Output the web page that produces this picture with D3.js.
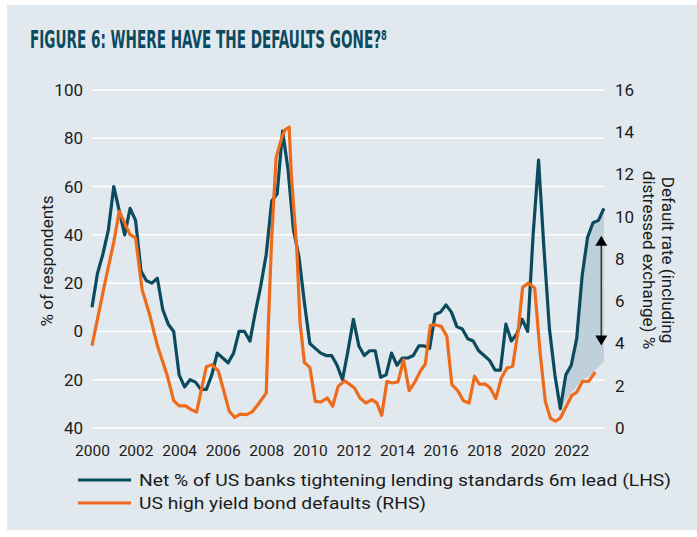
<!DOCTYPE html>
<html>
<head>
<meta charset="utf-8">
<script src="https://cdn.jsdelivr.net/npm/d3@7"></script>
<style>
  body { margin: 0; background: #fff; }
  text { font-family: Roboto, "Liberation Sans", sans-serif; fill: #1b1b1b; }
</style>
</head>
<body>
<div id="chart"></div>
<script>
// quarterly bank lending survey (6m lead), LHS
var bankDates = d3.range(2000, 2023.51, 0.25);
var bankValues = [10, 24, 32, 42, 60, 50, 40, 51, 46, 25, 21, 20, 22, 9, 3, 0,
  -18, -23, -20, -21, -24, -24, -18, -9, -11, -13, -9, 0, 0, -4, 8, 19,
  32, 54, 57, 83, 67, 42, 31, 12, -5, -7, -9, -10, -10, -14, -20, -8,
  5, -6, -10, -8, -8, -19, -18, -9, -14, -11, -11, -10, -6, -6, -7, 7,
  8, 11, 8, 2, 1, -3, -4, -8, -10, -12, -16, -16, 3, -4, -1, 5,
  0, 40, 71, 34, 1, -18, -32, -18, -14, -3, 23, 39, 45, 46, 51];

// US high yield defaults, RHS
var defDates = [2000.0, 2000.3, 2000.6, 2001.0, 2001.25, 2001.5, 2001.75, 2002.0, 2002.3, 2002.65,
  2003.0, 2003.45, 2003.75, 2004.0, 2004.3, 2004.55, 2004.8, 2005.25, 2005.5, 2005.8,
  2006.05, 2006.3, 2006.55, 2006.8, 2007.1, 2007.35, 2007.65, 2008.0, 2008.1, 2008.25,
  2008.45, 2008.7, 2008.85, 2009.05, 2009.15, 2009.4, 2009.55, 2009.75, 2010.0, 2010.25,
  2010.5, 2010.8, 2011.05, 2011.3, 2011.6, 2012.05, 2012.3, 2012.57, 2012.85, 2013.08,
  2013.3, 2013.54, 2013.77, 2014.05, 2014.3, 2014.56, 2014.84, 2015.07, 2015.3, 2015.53,
  2015.76, 2016.03, 2016.29, 2016.52, 2016.79, 2017.05, 2017.31, 2017.56, 2017.78, 2018.05,
  2018.28, 2018.54, 2018.79, 2019.05, 2019.31, 2019.56, 2019.77, 2020.04, 2020.32, 2020.58,
  2020.81, 2021.04, 2021.27, 2021.5, 2021.73, 2022.03, 2022.26, 2022.52, 2022.8, 2023.1];
var defRates = [3.9, 5.4, 6.9, 8.8, 10.25, 9.7, 9.15, 9.0, 6.55, 5.35,
  3.9, 2.5, 1.3, 1.05, 1.05, 0.87, 0.75, 2.9, 3.0, 2.7,
  1.75, 0.8, 0.5, 0.66, 0.63, 0.76, 1.15, 1.66, 5.0, 9.0,
  12.8, 13.7, 14.1, 14.25, 12.0, 8.5, 5.0, 3.1, 2.87, 1.26,
  1.23, 1.42, 1.03, 1.97, 2.24, 1.89, 1.42, 1.18, 1.34, 1.18,
  0.6, 2.21, 2.13, 2.18, 3.23, 1.77, 2.21, 2.68, 3.03, 4.86,
  4.89, 4.81, 4.34, 2.05, 1.77, 1.29, 1.18, 2.45, 2.08, 2.08,
  1.89, 1.39, 2.37, 2.84, 2.92, 4.58, 6.66, 6.86, 6.63, 3.47,
  1.26, 0.47, 0.32, 0.47, 0.95, 1.55, 1.7, 2.21, 2.21, 2.65];

// shaded band lower edge (RHS units), upper edge is the bank line from 2021.5
var shadeDates = [2021.5, 2022.0, 2022.45, 2022.85, 2023.5];
var shadeLow = [0.9, 1.66, 2.24, 2.49, 3.16];
var arrowYear = 2023.38;
var arrowRange = [3.9, 9.1];

var xTicks = d3.range(2000, 2023, 2);
var leftTicks = [-40, -20, 0, 20, 40, 60, 80, 100];
var rightTicks = [0, 2, 4, 6, 8, 10, 12, 14, 16];

var W = 697, H = 537;
var navy = "#0c4a5e", orange = "#ee6b1b", panel = "#e1e9ee";

var svg = d3.select("#chart").append("svg")
  .attr("width", W).attr("height", H);

// background panel
svg.append("rect")
  .attr("x", 7).attr("y", 5).attr("width", W - 7).attr("height", 525)
  .attr("fill", panel);

// title (condensed look forced with textLength), footnote mark as superscript char
svg.append("text")
  .attr("x", 30).attr("y", 48)
  .attr("textLength", 357).attr("lengthAdjust", "spacingAndGlyphs")
  .style("font-family", "'DejaVu Sans Condensed', 'Liberation Sans', sans-serif")
  .style("font-weight", "bold").style("font-size", "25px")
  .style("fill", navy)
  .text("FIGURE 6: WHERE HAVE THE DEFAULTS GONE?\u2078");

// scales
var x = d3.scaleLinear().domain([2000, 2023.55]).range([92, 605]);
var yL = d3.scaleLinear().domain([-40, 100]).range([428, 90]);
var yR = d3.scaleLinear().domain([0, 16]).range([428, 90]);

// gridlines
svg.append("g").selectAll("line")
  .data(leftTicks).enter().append("line")
  .attr("x1", 92).attr("x2", 605)
  .attr("y1", function(d) { return yL(d); })
  .attr("y2", function(d) { return yL(d); })
  .attr("stroke", "#fff").attr("stroke-width", 1.5);

// axes
var gl = svg.append("g").attr("transform", "translate(92,0)")
  .call(d3.axisLeft(yL).tickValues(leftTicks).tickSize(0).tickPadding(9)
    .tickFormat(function(d) { return Math.abs(d); }));
var gr = svg.append("g").attr("transform", "translate(605,0)")
  .call(d3.axisRight(yR).tickValues(rightTicks).tickSize(0).tickPadding(10));
var gb = svg.append("g").attr("transform", "translate(0,428)")
  .call(d3.axisBottom(x).tickValues(xTicks).tickSize(0).tickPadding(17)
    .tickFormat(d3.format("d")));
[gl, gr, gb].forEach(function(g) {
  g.select(".domain").remove();
  g.selectAll("text").style("font-family", "Roboto, sans-serif").style("fill", "#1b1b1b");
});
gl.selectAll("text").style("font-size", "17px");
gr.selectAll("text").style("font-size", "17px");
gb.selectAll("text").style("font-size", "15.5px");

// axis titles
svg.append("text")
  .attr("transform", "translate(53,261) rotate(-90)")
  .attr("text-anchor", "middle")
  .style("font-size", "17px")
  .text("% of respondents");
var rt = svg.append("text")
  .attr("transform", "translate(662,260) rotate(90)")
  .attr("text-anchor", "middle")
  .style("font-size", "17px");
rt.append("tspan").attr("x", 0).attr("y", 0).text("Default rate (including");
rt.append("tspan").attr("x", 0).attr("y", 19).text("distressed exchange) %");

// shaded band
var bankPts = bankDates.map(function(d, i) { return [d, bankValues[i]]; });
var band = bankPts.filter(function(p) { return p[0] >= 2021.5; })
  .map(function(p) { return [x(p[0]), yL(p[1])]; });
var low = shadeDates.map(function(d, i) { return [x(d), yR(shadeLow[i])]; }).reverse();
svg.append("path")
  .attr("d", d3.line()(band.concat(low)) + "Z")
  .attr("fill", "#bfd0da");

// lines
svg.append("path")
  .datum(bankPts)
  .attr("fill", "none").attr("stroke", navy).attr("stroke-width", 3.2)
  .attr("stroke-linejoin", "round")
  .attr("d", d3.line().x(function(d) { return x(d[0]); }).y(function(d) { return yL(d[1]); }));

svg.append("path")
  .datum(defDates.map(function(d, i) { return [d, defRates[i]]; }))
  .attr("fill", "none").attr("stroke", orange).attr("stroke-width", 3.2)
  .attr("stroke-linejoin", "round")
  .attr("d", d3.line().x(function(d) { return x(d[0]); }).y(function(d) { return yR(d[1]); }));

// double arrow
var ax = x(arrowYear), aTop = yR(arrowRange[1]), aBot = yR(arrowRange[0]);
svg.append("line")
  .attr("x1", ax).attr("x2", ax).attr("y1", aTop + 8).attr("y2", aBot - 8)
  .attr("stroke", "#333").attr("stroke-width", 1.5);
svg.append("path")
  .attr("d", "M" + ax + "," + aTop + "l-6,10h12z")
  .attr("fill", "#000");
svg.append("path")
  .attr("d", "M" + ax + "," + aBot + "l-6,-10h12z")
  .attr("fill", "#000");

// legend
var legend = [
  {label: "Net % of US banks tightening lending standards 6m lead (LHS)", color: navy, w: 532},
  {label: "US high yield bond defaults (RHS)", color: orange, w: 287}
];
legend.forEach(function(l, i) {
  var ly = 480 + i * 23;
  svg.append("line")
    .attr("x1", 78).attr("x2", 131).attr("y1", ly).attr("y2", ly)
    .attr("stroke", l.color).attr("stroke-width", 3);
  svg.append("text")
    .attr("x", 139).attr("y", ly + 6)
    .attr("textLength", l.w).attr("lengthAdjust", "spacingAndGlyphs")
    .style("font-size", "17px")
    .text(l.label);
});
</script>
</body>
</html>
